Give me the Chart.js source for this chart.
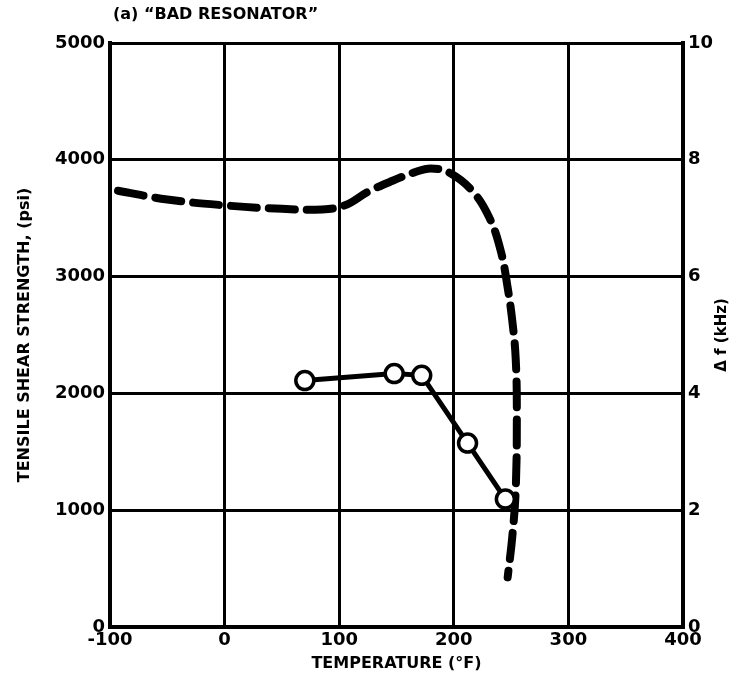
<!DOCTYPE html>
<html>
<head>
<meta charset="utf-8">
<script src="https://cdn.jsdelivr.net/npm/chart.js@4.4.0/dist/chart.umd.min.js"></script>
<style>
  html, body { margin: 0; padding: 0; background: #fff; }
  #wrap { width: 739px; height: 677px; }
</style>
</head>
<body>
<div id="wrap"><canvas id="resChart"></canvas></div>
<script>
// tensile shear strength (psi) vs temperature (°F)
const strengthTemps = [70, 148, 172, 212, 245];
const strengthPsi = [2110, 2170, 2155, 1575, 1095];

// frequency shift curve (kHz), dashed
const shiftTemps = [-93, -50, 0, 50, 85, 105, 125, 144, 165, 180, 196, 216, 231, 241, 247, 251, 254, 255, 254, 251, 247];
const shiftKHz = [7.47, 7.32, 7.22, 7.16, 7.15, 7.22, 7.45, 7.62, 7.78, 7.85, 7.78, 7.47, 7.01, 6.44, 5.81, 5.25, 4.6, 3.66, 2.34, 1.54, 0.85];

const xTicks = [-100, 0, 100, 200, 300, 400];

const WIDE = "'DejaVu Sans', sans-serif";

const extraText = {
    id: "extraText",
    afterDraw(chart) {
        const ctx = chart.ctx;
        const area = chart.chartArea;
        const midY = (area.top + area.bottom) / 2;
        ctx.save();
        ctx.fillStyle = "#000";
        ctx.font = "bold 16px " + WIDE;
        ctx.textAlign = "left";
        ctx.textBaseline = "middle";
        ctx.fillText("(a) \u201CBAD RESONATOR\u201D", 113, 15);

        ctx.textAlign = "center";
        // left axis title
        ctx.save();
        ctx.translate(25, midY);
        ctx.rotate(-Math.PI / 2);
        ctx.font = "bold 16px " + WIDE;
        ctx.fillText("TENSILE SHEAR STRENGTH, (psi)", 0, 0);
        ctx.restore();

        // right axis title, reads bottom to top
        ctx.translate(722, midY);
        ctx.rotate(-Math.PI / 2);
        ctx.font = "bold 15px " + WIDE;
        ctx.fillText("\u0394 f (kHz)", 0, 0);
        ctx.restore();
    }
};

const ctx = document.getElementById("resChart").getContext("2d");

new Chart(ctx, {
    type: "scatter",
    data: {
        datasets: [
            {
                label: "Tensile shear strength",
                data: strengthTemps.map((t, i) => ({ x: t, y: strengthPsi[i] })),
                yAxisID: "y",
                showLine: true,
                borderColor: "#000",
                borderWidth: 5,
                pointRadius: 9,
                pointBorderWidth: 3.5,
                pointBackgroundColor: "#fff",
                pointBorderColor: "#000",
                order: 1
            },
            {
                label: "Delta f",
                data: shiftTemps.map((t, i) => ({ x: t, y: shiftKHz[i] })),
                yAxisID: "y2",
                showLine: true,
                borderColor: "#000",
                borderWidth: 8,
                borderDash: [26, 12],
                borderCapStyle: "round",
                tension: 0.4,
                pointRadius: 0,
                order: 2
            }
        ]
    },
    options: {
        responsive: true,
        maintainAspectRatio: false,
        animation: false,
        layout: { padding: { top: 43, right: 0, bottom: 0, left: 0 } },
        plugins: {
            legend: { display: false },
            tooltip: { enabled: false }
        },
        scales: {
            x: {
                type: "linear",
                min: -100,
                max: 400,
                afterBuildTicks: axis => { axis.ticks = xTicks.map(v => ({ value: v })); },
                afterFit: axis => { axis.height = 50; },
                grid: { color: "#000", lineWidth: 3, drawTicks: false },
                border: { color: "#000", width: 4 },
                ticks: {
                    color: "#000",
                    padding: 3,
                    callback: v => String(v),
                    font: { family: WIDE, size: 18, weight: "bold" }
                },
                title: {
                    display: true,
                    text: "TEMPERATURE (\u00B0F)",
                    color: "#000",
                    padding: { top: 0, bottom: 4 },
                    font: { family: WIDE, size: 16, weight: "bold" }
                }
            },
            y: {
                position: "left",
                min: 0,
                max: 5000,
                afterFit: axis => { axis.width = 110; },
                grid: { color: "#000", lineWidth: 3, drawTicks: false },
                border: { color: "#000", width: 4 },
                ticks: {
                    stepSize: 1000,
                    color: "#000",
                    padding: 5,
                    callback: v => String(v),
                    font: { family: WIDE, size: 18, weight: "bold" }
                }
            },
            y2: {
                position: "right",
                min: 0,
                max: 10,
                afterFit: axis => { axis.width = 56; },
                grid: { drawOnChartArea: false, drawTicks: false },
                border: { color: "#000", width: 4 },
                ticks: {
                    stepSize: 2,
                    color: "#000",
                    padding: 5,
                    font: { family: WIDE, size: 18, weight: "bold" }
                }
            }
        }
    },
    plugins: [extraText]
});
</script>
</body>
</html>
